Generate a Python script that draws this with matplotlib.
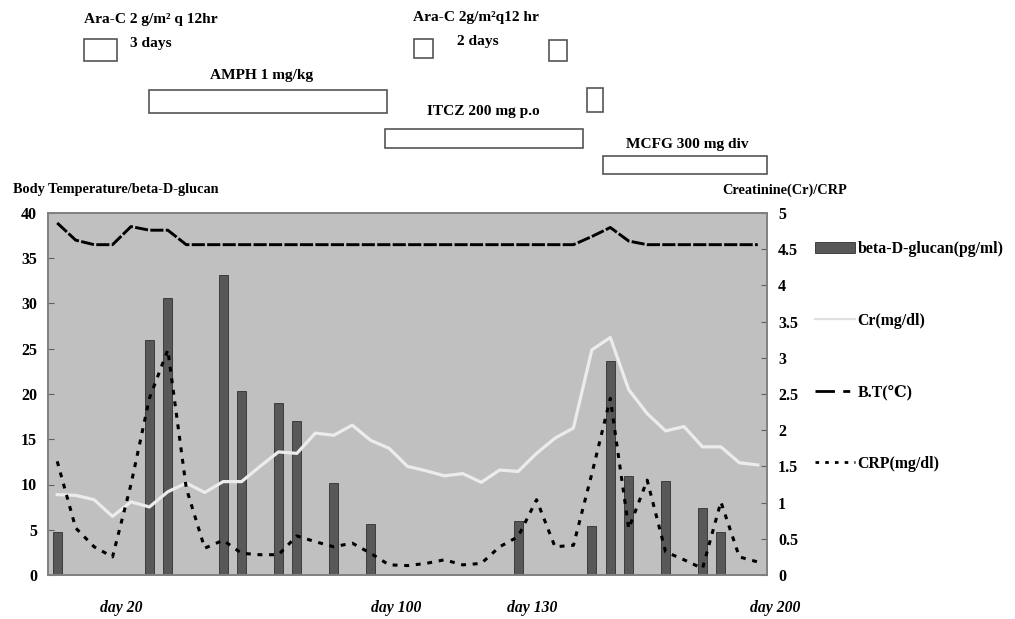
# beta-D-glucan / temperature / Cr / CRP course chart with treatment boxes on top
import matplotlib
matplotlib.use("Agg")
import matplotlib.pyplot as plt
from matplotlib import transforms
from matplotlib.patches import Rectangle
from matplotlib.lines import Line2D

plt.rcParams['font.family'] = ['Liberation Serif', 'DejaVu Serif']
plt.rcParams['font.weight'] = 'bold'
plt.rcParams['font.size'] = 10

# ---- data (x = measurement index, 39 points) ----
idx = list(range(39))

glucan_idx = [0, 5, 6, 9, 10, 12, 13, 15, 17, 25, 29, 30, 31, 33, 35, 36]
glucan = [4.8, 26.0, 30.6, 33.1, 20.3, 19.0, 17.0, 10.2, 5.6, 6.0, 5.4, 23.7, 10.9, 10.4, 7.4, 4.8]

bt = [38.9, 37.0, 36.5, 36.5, 38.5, 38.1, 38.1, 36.5, 36.5, 36.5,
      36.5, 36.5, 36.5, 36.5, 36.5, 36.5, 36.5, 36.5, 36.5, 36.5,
      36.5, 36.5, 36.5, 36.5, 36.5, 36.5, 36.5, 36.5, 36.5, 37.4,
      38.4, 36.9, 36.5, 36.5, 36.5, 36.5, 36.5, 36.5, 36.5]

cr = [1.11, 1.10, 1.04, 0.81, 1.01, 0.94, 1.15, 1.27, 1.14, 1.29,
      1.29, 1.50, 1.70, 1.68, 1.96, 1.93, 2.07, 1.86, 1.75, 1.50,
      1.44, 1.37, 1.40, 1.28, 1.45, 1.43, 1.68, 1.89, 2.03, 3.11,
      3.28, 2.56, 2.23, 1.99, 2.05, 1.77, 1.77, 1.55, 1.52]

crp = [1.57, 0.65, 0.39, 0.25, 1.25, 2.44, 3.11, 1.20, 0.37, 0.48,
       0.30, 0.28, 0.28, 0.54, 0.46, 0.39, 0.44, 0.30, 0.14, 0.13,
       0.16, 0.21, 0.14, 0.16, 0.39, 0.53, 1.04, 0.39, 0.41, 1.40,
       2.44, 0.64, 1.31, 0.32, 0.21, 0.09, 1.01, 0.25, 0.18]

left_ticks = [0, 5, 10, 15, 20, 25, 30, 35, 40]
right_ticks = [0, 0.5, 1, 1.5, 2, 2.5, 3, 3.5, 4, 4.5, 5]
right_labels = ['0', '0.5', '1', '1.5', '2', '2.5', '3', '3.5', '4', '4.5', '5']

# treatment boxes: (start index, end index, top px, bottom px)
treat_boxes = [(1.45, 3.23, 39, 61), (19.35, 20.38, 39, 58), (26.67, 27.65, 40, 61),
               (28.73, 29.6, 88, 112), (4.98, 17.87, 90, 113),
               (17.78, 28.5, 129, 148), (29.6, 38.49, 156, 174)]
# annotation texts: (text, x px, y px, ha)
treat_texts = [("Ara-C 2 g/m² q 12hr", 84, 19, 'left'), ("3 days", 130, 43, 'left'),
               ("AMPH 1 mg/kg", 262, 75, 'center'),
               ("Ara-C 2g/m²q12 hr", 413, 18, 'left'), ("2 days", 457, 42, 'left'),
               ("ITCZ 200 mg p.o", 483, 112, 'center'), ("MCFG 300 mg div", 687, 145, 'center')]
day_labels = [("day 20", 121), ("day 100", 396), ("day 130", 532), ("day 200", 775)]

W, H = 1015, 619
fig = plt.figure(figsize=(W / 100, H / 100), dpi=100)
ax = fig.add_axes([48 / W, 1 - 575 / H, (767 - 48) / W, (575 - 213) / H])
ax.set_facecolor('#c0c0c0')
ax2 = ax.twinx()

bars = ax.bar(glucan_idx, glucan, width=0.48, color='#585858', edgecolor='#303030', linewidth=0.6, zorder=2)
l_bt, = ax.plot(idx, bt, color='black', lw=2.1, linestyle=(0, (4.5, 0.8)), zorder=3)
l_cr, = ax2.plot(idx, cr, color='#ececec', lw=2.3)
l_crp, = ax2.plot(idx, crp, color='black', lw=2.2, linestyle=(0, (1.6, 2.2)))

ax.set_xlim(-0.5, 38.5)
ax.set_ylim(0, 40)
ax2.set_ylim(0, 5)
ax.set_xticks([])
ax.set_yticks(left_ticks)
ax2.set_yticks(right_ticks)
ax2.set_yticklabels(right_labels)
ax.tick_params(axis='y', direction='in', length=4, color='#606060', pad=8, labelsize=11.5)
ax2.tick_params(axis='y', direction='in', length=4, color='#606060', pad=8, labelsize=11.5)
for a in (ax, ax2):
    for s in a.spines.values():
        s.set_color('#808080')
        s.set_linewidth(1.2)

fig.text(13 / W, 1 - 190 / H, "Body Temperature/beta-D-glucan", ha='left', va='center', fontsize=10.3)
fig.text(847 / W, 1 - 190 / H, "Creatinine(Cr)/CRP", ha='right', va='center', fontsize=10.3)

# treatment boxes above the plot
trans = transforms.blended_transform_factory(ax.transData, fig.transFigure)
for x0, x1, top, bot in treat_boxes:
    ax.add_patch(Rectangle((x0, 1 - bot / H), x1 - x0, (bot - top) / H, transform=trans,
                           facecolor='white', edgecolor='#555555', lw=1.2, clip_on=False))
for txt, x, y, ha in treat_texts:
    fig.text(x / W, 1 - y / H, txt, ha=ha, va='center', fontsize=11.1)

for txt, x in day_labels:
    fig.text(x / W, 1 - 608 / H, txt, ha='center', va='center', fontsize=11.3, style='italic')

handles = [bars, Line2D([], [], color='#e0e0e0', lw=1.6),
           Line2D([], [], color='black', lw=2, linestyle=(0, (7, 3, 2.5, 20))),
           Line2D([], [], color='black', lw=2, linestyle=(0, (1.3, 2.2)))]
labels = ["beta-D-glucan(pg/ml)", "Cr(mg/dl)", "B.T(℃)", "CRP(mg/dl)"]
fig.legend(handles, labels, loc='center left', bbox_to_anchor=(815 / W, 1 - 356.5 / H),
           frameon=False, borderpad=0, borderaxespad=0, handlelength=2.5,
           handletextpad=0.2, labelspacing=3.5, fontsize=11.4)

fig.savefig("out.png", dpi=100)
